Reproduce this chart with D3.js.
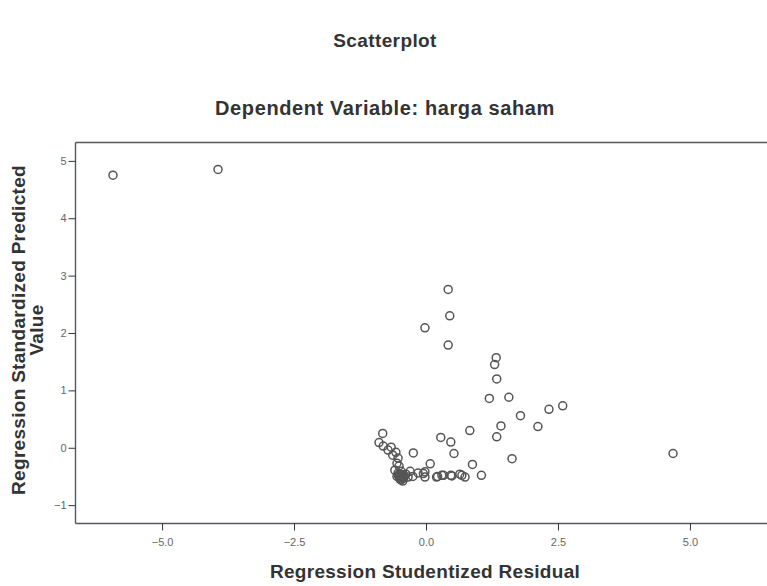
<!DOCTYPE html>
<html><head><meta charset="utf-8">
<script src="https://cdn.jsdelivr.net/npm/d3@7"></script>
<style>body{margin:0;background:#fff;}svg{display:block;font-family:"Liberation Sans",Arial,sans-serif;}</style>
</head><body>
<svg id="c" width="767" height="586"></svg>
<script>
const chartTitle = "Scatterplot";
const chartSubtitle = "Dependent Variable: harga saham";
const xLabel = "Regression Studentized Residual";
const yLabelLines = ["Regression Standardized Predicted", "Value"];
const xTicks = [-5.0, -2.5, 0.0, 2.5, 5.0];
const yTicks = [-1, 0, 1, 2, 3, 4, 5];
const residuals = [
 -5.93,-3.94,0.42,0.45,0.42,-0.02,1.33,1.30,1.34,1.20,1.57,2.59,2.33,1.79,2.12,1.42,1.34,0.83,0.28,0.47,0.53,0.88,1.63,4.68,
 -0.82,-0.89,-0.24,0.08,1.05,0.22,0.33,0.47,0.64,0.74,-0.05,
 -0.81,-0.72,-0.66,-0.63,-0.57,-0.53,-0.55,-0.51,-0.47,-0.51,-0.45,-0.42,-0.49,-0.44,-0.38,-0.34,-0.55,-0.59,-0.30,-0.15,-0.25,-0.02,-0.02,0.20,0.30,0.49,0.68,
 -0.48,-0.46,-0.52,-0.44,-0.50,-0.47,-0.42,-0.53
];
const predicted = [
 4.75,4.85,2.76,2.30,1.79,2.09,1.57,1.45,1.20,0.86,0.88,0.73,0.67,0.56,0.37,0.38,0.19,0.30,0.18,0.10,-0.10,-0.29,-0.19,-0.10,
 0.25,0.09,-0.09,-0.28,-0.48,-0.50,-0.48,-0.48,-0.46,-0.51,-0.45,
 0.03,-0.04,0.01,-0.13,-0.08,-0.18,-0.27,-0.32,-0.41,-0.46,-0.50,-0.53,-0.55,-0.58,-0.46,-0.51,-0.50,-0.39,-0.41,-0.44,-0.50,-0.42,-0.51,-0.51,-0.48,-0.49,-0.48,
 -0.47,-0.52,-0.49,-0.47,-0.53,-0.56,-0.49,-0.44
];

const svg = d3.select("#c");
const L = 75.5, R = 776.5, T = 142.5, B = 523.5;
const x = d3.scaleLinear().domain([-6.64, 6.64]).range([L, R]);
const y = d3.scaleLinear().domain([-1.32, 5.32]).range([B, T]);
const textColor = "#333";

svg.append("text").attr("x", 385).attr("y", 47).attr("text-anchor","middle")
  .attr("font-size", 19).attr("letter-spacing", 0.4).attr("font-weight","bold").attr("fill",textColor).text(chartTitle);
svg.append("text").attr("x", 385).attr("y", 115).attr("text-anchor","middle")
  .attr("font-size", 20).attr("letter-spacing", 0.6).attr("font-weight","bold").attr("fill",textColor).text(chartSubtitle);

// frame
const frameColor = "#5a5560";
svg.append("line").attr("x1",L).attr("x2",R+10).attr("y1",T).attr("y2",T).attr("stroke",frameColor).attr("stroke-width",1.4);
svg.append("line").attr("x1",L).attr("x2",R+10).attr("y1",B).attr("y2",B).attr("stroke",frameColor).attr("stroke-width",1.4);
svg.append("line").attr("x1",L).attr("x2",L).attr("y1",T).attr("y2",B).attr("stroke",frameColor).attr("stroke-width",1.4);

// axes
const xAxis = d3.axisBottom(x).tickValues(xTicks).tickFormat(d3.format(".1f")).tickSize(7).tickSizeOuter(0);
const gx = svg.append("g").attr("transform",`translate(0,${B})`).call(xAxis);
gx.select(".domain").remove();
gx.selectAll(".tick line").attr("stroke","#333");
gx.selectAll(".tick text").attr("fill","#666").attr("font-size",11).attr("dy","1.15em").attr("font-family","'Liberation Sans Narrow','Liberation Sans',Arial");

const yAxis = d3.axisLeft(y).tickValues(yTicks).tickFormat(d3.format("d")).tickSize(7).tickSizeOuter(0);
const gy = svg.append("g").attr("transform",`translate(${L},0)`).call(yAxis);
gy.select(".domain").remove();
gy.selectAll(".tick line").attr("stroke","#333");
gy.selectAll(".tick text").attr("fill","#666").attr("font-size",11).attr("x",-9).attr("font-family","'Liberation Sans Narrow','Liberation Sans',Arial");

// axis titles
svg.append("text").attr("x", 425).attr("y", 578).attr("text-anchor","middle")
  .attr("font-size", 19).attr("letter-spacing", 0.3).attr("font-weight","bold").attr("fill",textColor).text(xLabel);
const yt = svg.append("text").attr("transform","translate(25,330) rotate(-90)").attr("text-anchor","middle")
  .attr("font-size", 19).attr("letter-spacing", 0.3).attr("font-weight","bold").attr("fill",textColor);
yLabelLines.forEach((s,i)=> yt.append("tspan").attr("x",0).attr("dy", i===0 ? 0 : 18).text(s));

// points
const pts = residuals.map((r,i)=>({r, p: predicted[i]}));
svg.append("g").selectAll("circle").data(pts).join("circle")
  .attr("cx", d=>x(d.r)).attr("cy", d=>y(d.p)).attr("r", 4)
  .attr("fill","none").attr("stroke","#555").attr("stroke-width",1.5);
</script>
</body></html>
